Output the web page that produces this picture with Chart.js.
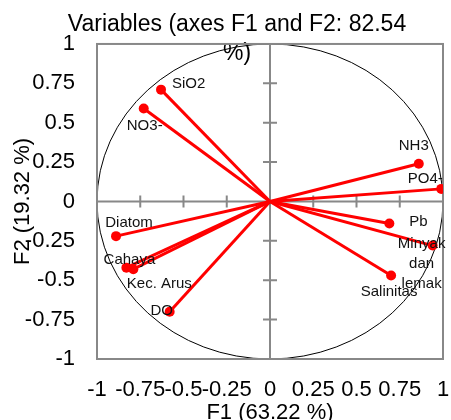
<!DOCTYPE html>
<html>
<head>
<meta charset="utf-8">
<script src="https://cdn.jsdelivr.net/npm/chart.js@4.4.0/dist/chart.umd.min.js"></script>
<style>
  html, body { margin: 0; padding: 0; background: #fff; }
  #wrap { width: 451px; height: 420px; }
</style>
</head>
<body>
<div id="wrap"><canvas id="myChart"></canvas></div>
<script>
const variables = ["SiO2", "NO3-", "NH3", "PO4-", "Pb", "Minyak dan lemak", "Salinitas", "Diatom", "Cahaya", "Kec. Arus", "DO"];
const f1 = [-0.63, -0.73, 0.86, 0.99, 0.69, 0.94, 0.70, -0.89, -0.83, -0.79, -0.58];
const f2 = [0.71, 0.59, 0.24, 0.08, -0.14, -0.28, -0.47, -0.22, -0.42, -0.43, -0.70];
const axisTicks = [-1, -0.75, -0.5, -0.25, 0, 0.25, 0.5, 0.75, 1];

// where each label sits relative to its point (pixels)
const labelOffsets = {
  "SiO2": { dx: 11, dy: -6, align: "left" },
  "NO3-": { dx: 1, dy: 17, align: "center" },
  "NH3": { dx: -5, dy: -18, align: "center" },
  "PO4-": { dx: -16, dy: -10, align: "center" },
  "Pb": { dx: 20, dy: -2, align: "left" },
  "Minyak dan lemak": { dx: -11, dy: -2, align: "center", lines: ["Minyak", "dan", "lemak"] },
  "Salinitas": { dx: -2, dy: 16, align: "center" },
  "Diatom": { dx: 13, dy: -13, align: "center" },
  "Cahaya": { dx: 3, dy: -8, align: "center" },
  "Kec. Arus": { dx: 26, dy: 15, align: "center" },
  "DO": { dx: -8, dy: -1, align: "center" },
};

const pcaPlugin = {
  id: "pca",
  afterLayout(chart) {
    // title in the original is centred a bit right of the canvas middle
    chart.titleBlock.left = 31;
  },
  beforeDatasetsDraw(chart) {
    const { ctx, chartArea: a, scales: { x, y } } = chart;
    const x0 = x.getPixelForValue(0);
    const y0 = y.getPixelForValue(0);
    ctx.save();
    ctx.strokeStyle = "#000";
    ctx.lineWidth = 1;
    ctx.beginPath();
    ctx.ellipse(x0, y0, x.getPixelForValue(1) - x0, y0 - y.getPixelForValue(1), 0, 0, Math.PI * 2);
    ctx.stroke();

    ctx.strokeStyle = "#888";
    ctx.lineWidth = 2;
    ctx.strokeRect(a.left, a.top, a.width, a.height);
    ctx.beginPath();
    ctx.moveTo(a.left, y0);
    ctx.lineTo(a.right, y0);
    ctx.moveTo(x0, a.top);
    ctx.lineTo(x0, a.bottom);
    axisTicks.forEach((t) => {
      if (t === 0 || Math.abs(t) === 1) return;
      const px = x.getPixelForValue(t);
      ctx.moveTo(px, y0 - 6);
      ctx.lineTo(px, y0 + 6);
      const py = y.getPixelForValue(t);
      ctx.moveTo(x0 - 7, py);
      ctx.lineTo(x0 + 7, py);
    });
    ctx.stroke();
    ctx.restore();
  },
  afterDatasetsDraw(chart) {
    const { ctx, scales: { x, y } } = chart;
    ctx.save();
    ctx.font = "15px 'Liberation Sans', Arial, sans-serif";
    ctx.fillStyle = "#111";
    ctx.textBaseline = "middle";
    variables.forEach((name, i) => {
      const o = labelOffsets[name];
      const px = x.getPixelForValue(f1[i]) + o.dx;
      const py = y.getPixelForValue(f2[i]) + o.dy;
      ctx.textAlign = o.align;
      (o.lines || [name]).forEach((line, k) => {
        ctx.fillText(line, px, py + k * 20);
      });
    });
    ctx.restore();
  },
};

const datasets = variables.map((name, i) => ({
  label: name,
  data: [{ x: 0, y: 0 }, { x: f1[i], y: f2[i] }],
  showLine: true,
  borderColor: "#ff0000",
  borderWidth: 3,
  pointRadius: [0, 5],
  pointBackgroundColor: "#ff0000",
  pointBorderWidth: 0,
}));

const tickFont = { family: "'Liberation Sans', Arial, sans-serif", size: 22 };

new Chart(document.getElementById("myChart"), {
  type: "scatter",
  data: { datasets },
  options: {
    responsive: true,
    maintainAspectRatio: false,
    animation: false,
    layout: { padding: { top: 0, right: 8, left: 0, bottom: 0 } },
    plugins: {
      legend: { display: false },
      tooltip: { enabled: false },
      title: {
        display: true,
        text: ["Variables (axes F1 and F2: 82.54", "%)"],
        color: "#000",
        font: { family: "'Liberation Sans', Arial, sans-serif", size: 23, weight: "normal", lineHeight: 1.26 },
        padding: { top: 10, bottom: -24 },
      },
    },
    scales: {
      x: {
        type: "linear",
        min: -1,
        max: 1,
        afterBuildTicks: (scale) => { scale.ticks = axisTicks.map((v) => ({ value: v })); },
        afterFit: (scale) => {
          scale.height = 61;
          scale.paddingLeft = 0;
          scale.paddingRight = 0;
        },
        ticks: { autoSkip: false, maxRotation: 0, color: "#000", font: tickFont, padding: 18, callback: (v) => String(v) },
        grid: { display: false, drawTicks: false },
        border: { display: false },
        title: { display: true, text: "F1 (63.22 %)", color: "#000", font: { ...tickFont, lineHeight: 0.6 }, padding: 0 },
      },
      y: {
        type: "linear",
        min: -1,
        max: 1,
        afterBuildTicks: (scale) => { scale.ticks = axisTicks.map((v) => ({ value: v })); },
        afterFit: (scale) => {
          scale.width = 97;
          scale.paddingTop = 0;
          scale.paddingBottom = 0;
        },
        ticks: { color: "#000", font: tickFont, padding: 22, callback: (v) => String(v) },
        grid: { display: false, drawTicks: false },
        border: { display: false },
        title: { display: true, text: "F2 (19.32 %)", color: "#000", font: tickFont, padding: { top: 10 } },
      },
    },
  },
  plugins: [pcaPlugin],
});
</script>
</body>
</html>
